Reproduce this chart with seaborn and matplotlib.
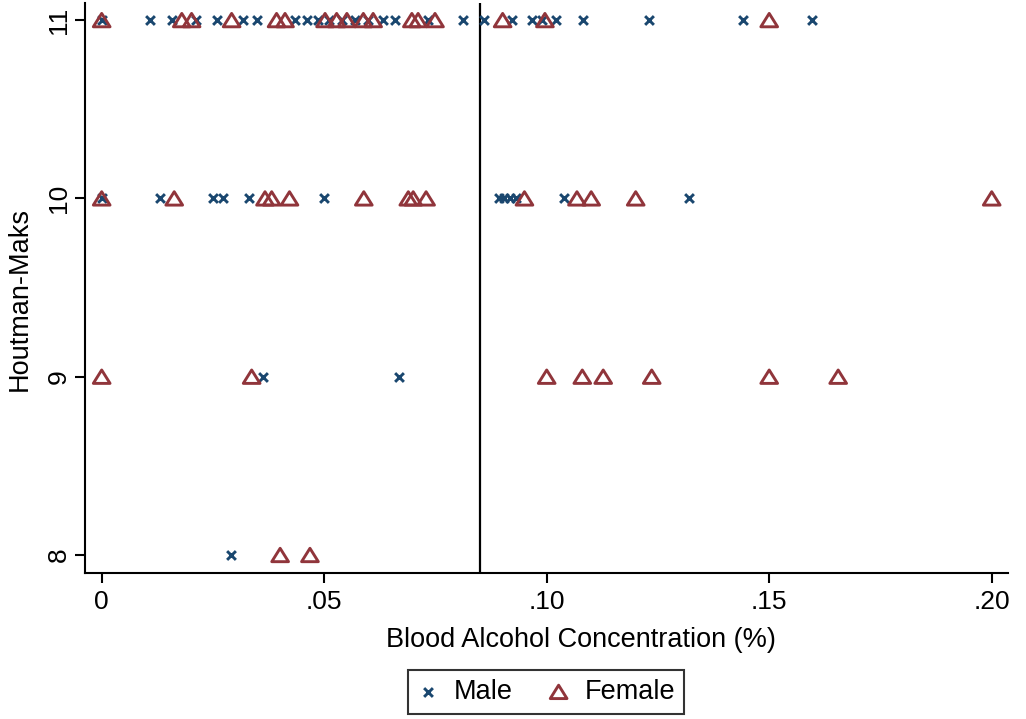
import matplotlib
matplotlib.use("Agg")
import matplotlib.pyplot as plt
from matplotlib.path import Path
import seaborn as sns
import pandas as pd

# ---- data ----
male_bac = [0.0, 0.0109, 0.0157, 0.0213, 0.0258, 0.0318, 0.0348, 0.0434, 0.0461,
            0.0487, 0.051, 0.054, 0.0569, 0.0599, 0.0633, 0.0659, 0.0734, 0.0813,
            0.0858, 0.0921, 0.0966, 0.0989, 0.1022, 0.1082, 0.1231, 0.144, 0.1596,
            0.0, 0.0131, 0.0251, 0.0272, 0.0332, 0.05, 0.0893, 0.0905, 0.0918,
            0.093, 0.1038, 0.1319,
            0.0362, 0.0669,
            0.029]
male_hm = [11] * 27 + [10] * 12 + [9] * 2 + [8] * 1

female_bac = [0.0, 0.018, 0.0202, 0.0292, 0.0393, 0.0412, 0.0502, 0.0528, 0.0551,
              0.0588, 0.061, 0.0697, 0.0711, 0.0749, 0.0901, 0.0996, 0.150,
              0.0, 0.0163, 0.0367, 0.0382, 0.0422, 0.0589, 0.0689, 0.07, 0.0729,
              0.095, 0.1068, 0.11, 0.12, 0.20,
              0.0, 0.0337, 0.10, 0.108, 0.1127, 0.1236, 0.150, 0.1655,
              0.0401, 0.0468]
female_hm = [11] * 17 + [10] * 14 + [9] * 8 + [8] * 2

x_ticks = [0, 0.05, 0.10, 0.15, 0.20]
x_tick_labels = ["0", ".05", ".10", ".15", ".20"]
y_ticks = [8, 9, 10, 11]
y_tick_labels = ["8", "9", "10", "11"]
cutoff = 0.085

male_df = pd.DataFrame({"bac": male_bac, "hm": male_hm})
female_df = pd.DataFrame({"bac": female_bac, "hm": female_hm})

sns.set_style("white")
plt.rcParams["font.family"] = ["Liberation Sans", "DejaVu Sans"]
plt.rcParams["text.color"] = "black"
plt.rcParams["axes.labelcolor"] = "black"
plt.rcParams["xtick.color"] = "black"
plt.rcParams["ytick.color"] = "black"

MALE_C = "#1a476f"
FEMALE_C = "#90353b"

fig = plt.figure(figsize=(10.26, 7.19), dpi=100)
ax = fig.add_axes([85 / 1026, (719 - 573) / 719, (1008 - 85) / 1026, (573 - 3) / 719])

tri = Path([(-1, -0.8), (1, -0.8), (0, 0.8), (-1, -0.8)], closed=True)

sns.scatterplot(data=male_df, x="bac", y="hm", ax=ax, marker="x", s=40,
                color=MALE_C, linewidth=2.1, label="Male", zorder=3)
sns.scatterplot(data=female_df, x="bac", y="hm", ax=ax, marker=tri, s=145,
                facecolors="none", edgecolor=FEMALE_C, color=FEMALE_C,
                linewidth=2.1, label="Female", zorder=4)

ax.axvline(cutoff, color="black", linewidth=1.6, zorder=2)

ax.set_xlim(-0.00375, 0.20366)
ax.set_ylim(7.899, 11.096)
ax.set_xticks(x_ticks)
ax.set_xticklabels(x_tick_labels)
ax.set_yticks(y_ticks)
ax.set_yticklabels(y_tick_labels, rotation=90, va="center")

for side in ["top", "right"]:
    ax.spines[side].set_visible(False)
for side in ["left", "bottom"]:
    ax.spines[side].set_linewidth(1.5)
    ax.spines[side].set_color("black")

ax.tick_params(axis="both", direction="out", length=7, width=1.5, color="black",
               labelsize=19, pad=5, left=True, bottom=True)
ax.tick_params(axis="y", pad=3)

ax.set_xlabel("Blood Alcohol Concentration (%)", fontsize=19.5)
ax.set_ylabel("Houtman-Maks", fontsize=19.5)
ax.xaxis.set_label_coords(0.537, -0.095)
ax.yaxis.set_label_coords(-0.057, 0.48)

if ax.get_legend():
    ax.get_legend().remove()
handles, labels = ax.get_legend_handles_labels()
leg = fig.legend(handles, labels, loc="center", bbox_to_anchor=(546 / 1026, 1 - 692 / 719),
                 ncol=2, frameon=True, fancybox=False, fontsize=19.5,
                 columnspacing=1.3, handlelength=0.8, handletextpad=0.55,
                 borderpad=0.35, borderaxespad=0)
leg.get_frame().set_edgecolor("black")
leg.get_frame().set_linewidth(1.5)

fig.savefig("out.png", dpi=100)
